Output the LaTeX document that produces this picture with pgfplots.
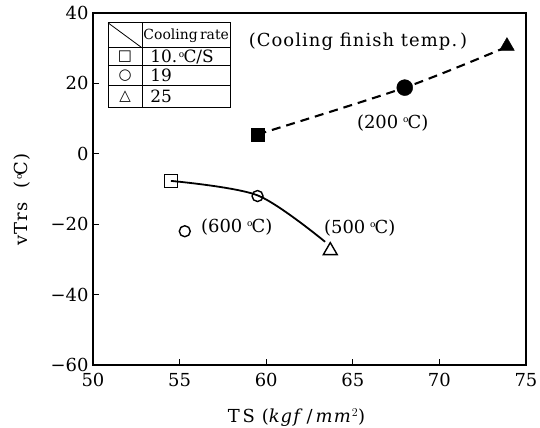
\documentclass[border=0pt]{standalone}
\usepackage{fontspec}
\usepackage{pgfplots}
\pgfplotsset{compat=1.18}
\setmainfont{DejaVu Serif}
\newfontfamily\symfont{DejaVu Sans}
\newcommand{\dC}{\kern0.1em\raisebox{0.6ex}{\fontsize{9}{9}\selectfont o}\kern-0.05em C}
\newcommand{\bigf}{\fontsize{18}{20}\selectfont}
\newcommand{\wide}{\addfontfeature{LetterSpace=6}}

\begin{document}
\begin{tikzpicture}
\begin{axis}[
  scale only axis, width=433bp, height=352bp,
  xmin=50, xmax=75, ymin=-60, ymax=40,
  xtick={50,55,...,75}, ytick={-60,-40,...,40},
  xticklabels={50,55,60,65,70,75},
  yticklabels={−60,−40,−20,0,20,40},
  tick align=inside, xtick pos=bottom, ytick pos=left,
  major tick length=6bp,
  axis line style={line width=2.2bp},
  tick style={line width=1.2bp, black},
  tick label style={font=\bigf},
  xticklabel style={yshift=-5bp},
  yticklabel style={xshift=-1bp},
  xlabel={\wide T\,S\ (\textit{kgf}\,/\,\textit{mm}$^2$)},
  ylabel={\wide vTrs\ \ (\dC)},
  label style={font=\bigf},
  xlabel style={at={(rel axis cs:0.47,0)}, anchor=center, yshift=-53bp},
  ylabel style={at={(rel axis cs:0,0.47)}, anchor=center, yshift=71bp},
  clip=false,
]
% cooling rate curves
\addplot[black, line width=1.8bp, smooth] coordinates {(54.5,-7.7) (59.5,-11.8) (63.4,-25)};
\addplot[black, line width=2.1bp, smooth, dash pattern=on 9bp off 6bp] coordinates {(59.5,5.5) (68,18.8) (73.9,30.4)};

% open marks
\addplot[only marks, mark=square, mark size=6.5bp, line width=1.4bp, mark options={fill=white}] coordinates {(54.5,-7.7)};
\addplot[only marks, mark=o, mark size=5.5bp, line width=1.4bp, mark options={fill=white}] coordinates {(59.5,-12) (55.3,-22)};
\addplot[only marks, mark=triangle, mark size=8bp, line width=1.4bp, mark options={fill=white}] coordinates {(63.7,-27.5)};

% filled marks
\addplot[only marks, mark=square*, mark size=6.5bp, black] coordinates {(59.5,5.5)};
\addplot[only marks, mark=*, mark size=8bp, black] coordinates {(68,18.8)};
\addplot[only marks, mark=triangle*, mark size=8.5bp, black] coordinates {(73.9,30.6)};

% annotations
\node[font=\bigf] at (axis cs:65.3,31.8) {\wide(Cooling\ finish\ temp.\,)};
\node[font=\bigf] at (axis cs:67.3,8.8) {(200\,\dC)};
\node[font=\bigf] at (axis cs:58.3,-20.7) {(600\,\dC)};
\node[font=\bigf] at (axis cs:65.4,-21) {(500\,\dC)};

% key table
\draw[line width=1bp] (axis cs:50.87,13.1) rectangle (axis cs:57.92,37.2);
\draw[line width=1bp] (axis cs:50.87,30.1) -- (axis cs:57.92,30.1);
\draw[line width=1bp] (axis cs:50.87,25.0) -- (axis cs:57.92,25.0);
\draw[line width=1bp] (axis cs:50.87,19.3) -- (axis cs:57.92,19.3);
\draw[line width=1bp] (axis cs:52.83,13.1) -- (axis cs:52.83,37.2);
\draw[line width=0.8bp] (axis cs:50.87,37.2) -- (axis cs:52.83,30.1);
\node[font=\fontsize{14}{15}\selectfont, inner sep=0pt] at (axis cs:55.38,33.6) {Cooling\,rate};
\node[font=\symfont\fontsize{15}{16}\selectfont, inner sep=0pt] at (axis cs:51.85,27.55) {□};
\node[font=\symfont\fontsize{15}{16}\selectfont, inner sep=0pt] at (axis cs:51.85,22.15) {○};
\node[font=\symfont\fontsize{15}{16}\selectfont, inner sep=0pt] at (axis cs:51.85,16.2) {△};
\node[font=\fontsize{17}{18}\selectfont, anchor=west, inner sep=0pt] at (axis cs:53.3,27.55) {10.\dC/S};
\node[font=\fontsize{17}{18}\selectfont, anchor=west, inner sep=0pt] at (axis cs:53.3,22.15) {19};
\node[font=\fontsize{17}{18}\selectfont, anchor=west, inner sep=0pt] at (axis cs:53.3,16.2) {25};

\coordinate (SW) at (rel axis cs:0,0);
\coordinate (NE) at (rel axis cs:1,1);
\end{axis}
\pgfresetboundingbox
\path ([shift={(-93bp,-63bp)}]SW) rectangle ([shift={(14bp,13bp)}]NE);
\end{tikzpicture}
\end{document}
